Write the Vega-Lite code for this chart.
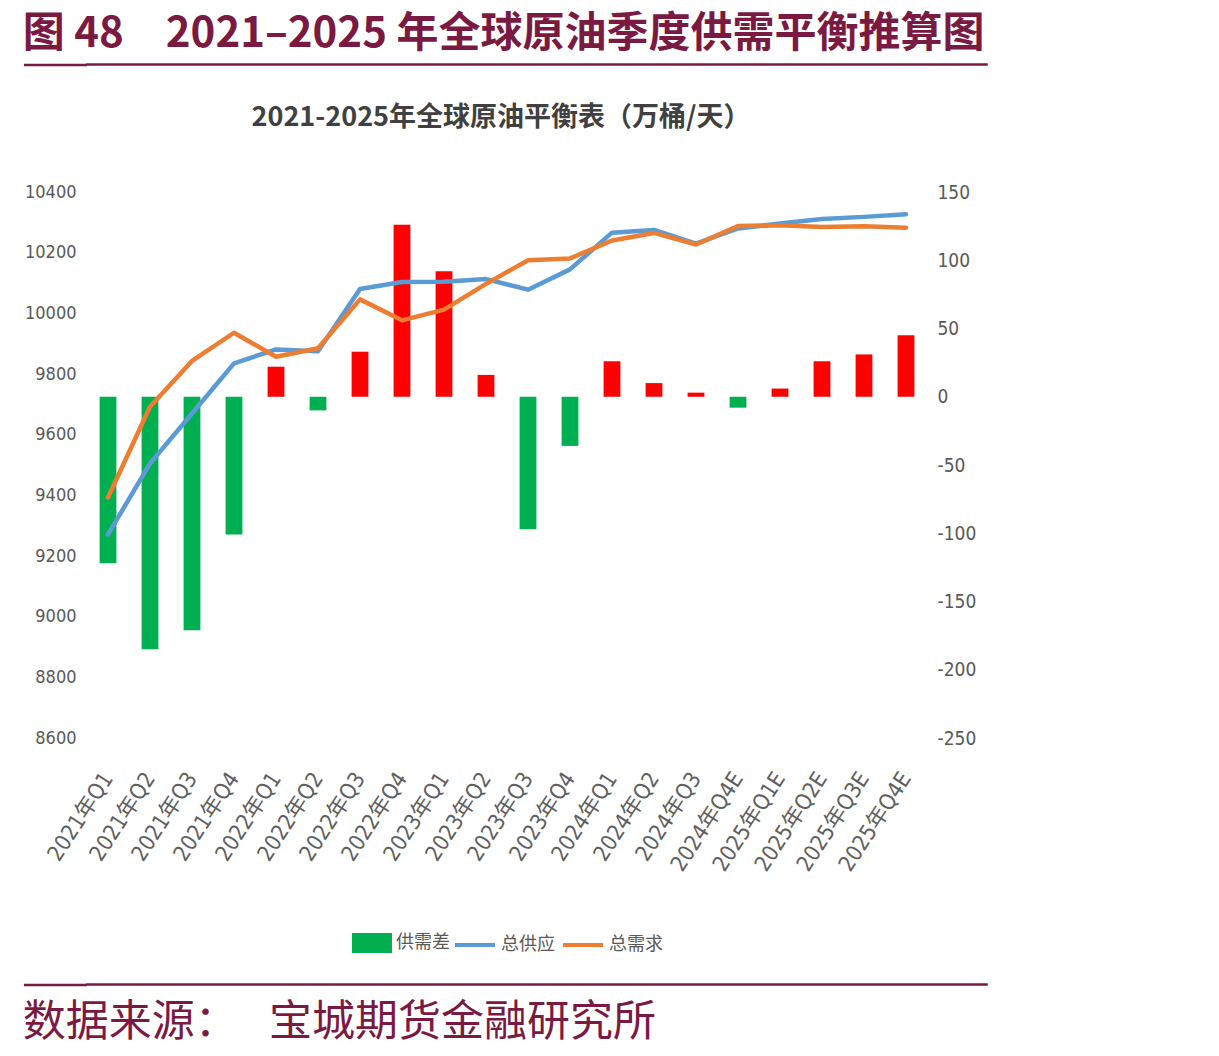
{
  "$schema": "https://vega.github.io/schema/vega-lite/v6.json",
  "background": "white",
  "padding": {"left": 22, "top": 11, "right": 10, "bottom": 5},
  "config": {
    "legend": {"layout": {"bottom": {"anchor": "middle", "direction": "horizontal", "margin": 3}}}
  },
  "datasets": {
    "d": [
      {"季度": "2021年Q1", "供需差": -122, "总供应": 9271, "总需求": 9393},
      {"季度": "2021年Q2", "供需差": -185, "总供应": 9505, "总需求": 9692},
      {"季度": "2021年Q3", "供需差": -171, "总供应": 9670, "总需求": 9843},
      {"季度": "2021年Q4", "供需差": -101, "总供应": 9835, "总需求": 9936},
      {"季度": "2022年Q1", "供需差": 22, "总供应": 9881, "总需求": 9857},
      {"季度": "2022年Q2", "供需差": -10, "总供应": 9875, "总需求": 9885},
      {"季度": "2022年Q3", "供需差": 33, "总供应": 10080, "总需求": 10046},
      {"季度": "2022年Q4", "供需差": 126, "总供应": 10103, "总需求": 9977},
      {"季度": "2023年Q1", "供需差": 92, "总供应": 10104, "总需求": 10012},
      {"季度": "2023年Q2", "供需差": 16, "总供应": 10113, "总需求": 10097},
      {"季度": "2023年Q3", "供需差": -97, "总供应": 10078, "总需求": 10175},
      {"季度": "2023年Q4", "供需差": -36, "总供应": 10145, "总需求": 10181},
      {"季度": "2024年Q1", "供需差": 26, "总供应": 10266, "总需求": 10240},
      {"季度": "2024年Q2", "供需差": 10, "总供应": 10275, "总需求": 10265},
      {"季度": "2024年Q3", "供需差": 3, "总供应": 10230, "总需求": 10227},
      {"季度": "2024年Q4E", "供需差": -8, "总供应": 10280, "总需求": 10288},
      {"季度": "2025年Q1E", "供需差": 6, "总供应": 10296, "总需求": 10290},
      {"季度": "2025年Q2E", "供需差": 26, "总供应": 10311, "总需求": 10285},
      {"季度": "2025年Q3E", "供需差": 31, "总供应": 10318, "总需求": 10287},
      {"季度": "2025年Q4E", "供需差": 45, "总供应": 10327, "总需求": 10282}
    ],
    "rule": [{"k": "线"}]
  },
  "columns": 1,
  "align": "none",
  "spacing": 33,
  "resolve": {
    "scale": {"fill": "independent", "stroke": "independent"},
    "legend": {"fill": "independent", "stroke": "independent"}
  },
  "concat": [
    {
      "width": 900,
      "height": 1,
      "data": {"name": "rule"},
      "mark": {"type": "text"},
      "encoding": {
        "y": {
          "field": "k", "type": "nominal",
          "axis": {"title": null, "labels": false, "domain": false, "grid": false, "translate": 0,
                   "ticks": true, "tickSize": 63, "tickWidth": 2.5, "tickColor": "#7a1a42"}
        }
      },
      "view": {"stroke": "#7a1a42", "strokeWidth": 1.5},
      "title": {
        "text": "图 48　2021–2025 年全球原油季度供需平衡推算图",
        "anchor": "start",
        "orient": "top",
        "font": "Noto Sans CJK SC",
        "fontSize": 42,
        "fontWeight": "bold",
        "color": "#7a1a42",
        "offset": 3
      }
    },
    {
      "columns": 1,
      "align": "none",
      "spacing": 23,
      "resolve": {
        "scale": {"fill": "independent", "stroke": "independent"},
        "legend": {"fill": "independent", "stroke": "independent"}
      },
      "concat": [
        {
          "width": 840,
          "height": 546,
          "data": {"name": "d"},
          "view": {"stroke": null},
          "title": {
            "text": "2021-2025年全球原油平衡表（万桶/天）",
            "font": "Noto Sans CJK SC",
            "fontSize": 27,
            "fontWeight": "bold",
            "color": "#404040",
            "offset": 51,
            "dx": -6
          },
          "layer": [
            {
              "transform": [{"fold": ["供需差"], "as": ["series", "value"]}],
              "mark": {"type": "bar"},
              "encoding": {
                "x": {
                  "field": "季度", "type": "ordinal", "sort": null,
                  "scale": {"paddingInner": 0.6, "paddingOuter": 0.3},
                  "axis": {
                    "title": null, "labelAngle": -57, "domain": false, "ticks": false,
                    "labelFont": "DejaVu Sans Condensed, Noto Sans CJK SC",
                    "labelFontSize": 22, "labelColor": "#5f5f5f", "labelPadding": 36
                  }
                },
                "y": {
                  "field": "value", "type": "quantitative",
                  "scale": {"domain": [-250, 150], "nice": false},
                  "axis": {
                    "orient": "right", "title": null, "grid": false, "domain": false, "ticks": false,
                    "values": [-250, -200, -150, -100, -50, 0, 50, 100, 150],
                    "labelExpr": "'' + datum.value",
                    "labelFont": "DejaVu Sans Condensed",
                    "labelFontSize": 19, "labelColor": "#595959", "labelPadding": 10
                  }
                },
                "fill": {
                  "field": "series", "type": "nominal",
                  "condition": {"test": "datum.value > 0", "value": "#ff0000"},
                  "scale": {"domain": ["供需差"], "range": ["#00b050"]},
                  "legend": {
                    "title": null, "orient": "bottom", "direction": "horizontal",
                    "symbolType": "M-1,-0.5H1V0.5H-1Z", "symbolSize": 1600, "symbolStrokeWidth": 0,
                    "labelFont": "Noto Sans CJK SC", "labelFontSize": 18, "labelColor": "#595959",
                    "labelOffset": 4, "offset": 48
                  }
                }
              }
            },
            {
              "transform": [{"fold": ["总供应", "总需求"], "as": ["series", "val"]}],
              "mark": {"type": "line", "strokeWidth": 4.5, "strokeCap": "round", "strokeJoin": "round"},
              "encoding": {
                "x": {"field": "季度", "type": "ordinal", "sort": null},
                "y": {
                  "field": "val", "type": "quantitative",
                  "scale": {"domain": [8600, 10400], "nice": false, "zero": false},
                  "axis": {
                    "orient": "left", "title": null, "domain": false, "ticks": false,
                    "values": [8600, 8800, 9000, 9200, 9400, 9600, 9800, 10000, 10200, 10400],
                    "labelExpr": "'' + datum.value",
                    "gridColor": "#d9d9d9", "gridWidth": 1.5,
                    "labelFont": "DejaVu Sans Condensed",
                    "labelFontSize": 18, "labelColor": "#595959", "labelPadding": 11
                  }
                },
                "stroke": {
                  "field": "series", "type": "nominal",
                  "scale": {"domain": ["总供应", "总需求"], "range": ["#5b9bd5", "#ed7d31"]},
                  "legend": {
                    "title": null, "orient": "bottom", "direction": "horizontal",
                    "symbolType": "stroke", "symbolSize": 1600, "symbolStrokeWidth": 4,
                    "labelFont": "Noto Sans CJK SC", "labelFontSize": 18, "labelColor": "#595959",
                    "labelOffset": 4, "columnPadding": 0, "offset": 48
                  }
                }
              }
            }
          ],
          "resolve": {"scale": {"y": "independent"}}
        },
        {
          "width": 900,
          "height": 1,
          "data": {"name": "rule"},
          "mark": {"type": "text"},
          "encoding": {
            "y": {
              "field": "k", "type": "nominal",
              "axis": {"title": null, "labels": false, "domain": false, "grid": false, "translate": 0,
                       "ticks": true, "tickSize": 63, "tickWidth": 2.5, "tickColor": "#7a1a42"}
            }
          },
          "view": {"stroke": "#7a1a42", "strokeWidth": 1.5},
          "title": {
            "text": "数据来源：\u2002 宝城期货金融研究所",
            "anchor": "start",
            "orient": "bottom",
            "font": "Noto Sans CJK SC",
            "fontSize": 43,
            "fontWeight": "normal",
            "color": "#7a1a42",
            "offset": 12
          }
        }
      ]
    }
  ]
}
